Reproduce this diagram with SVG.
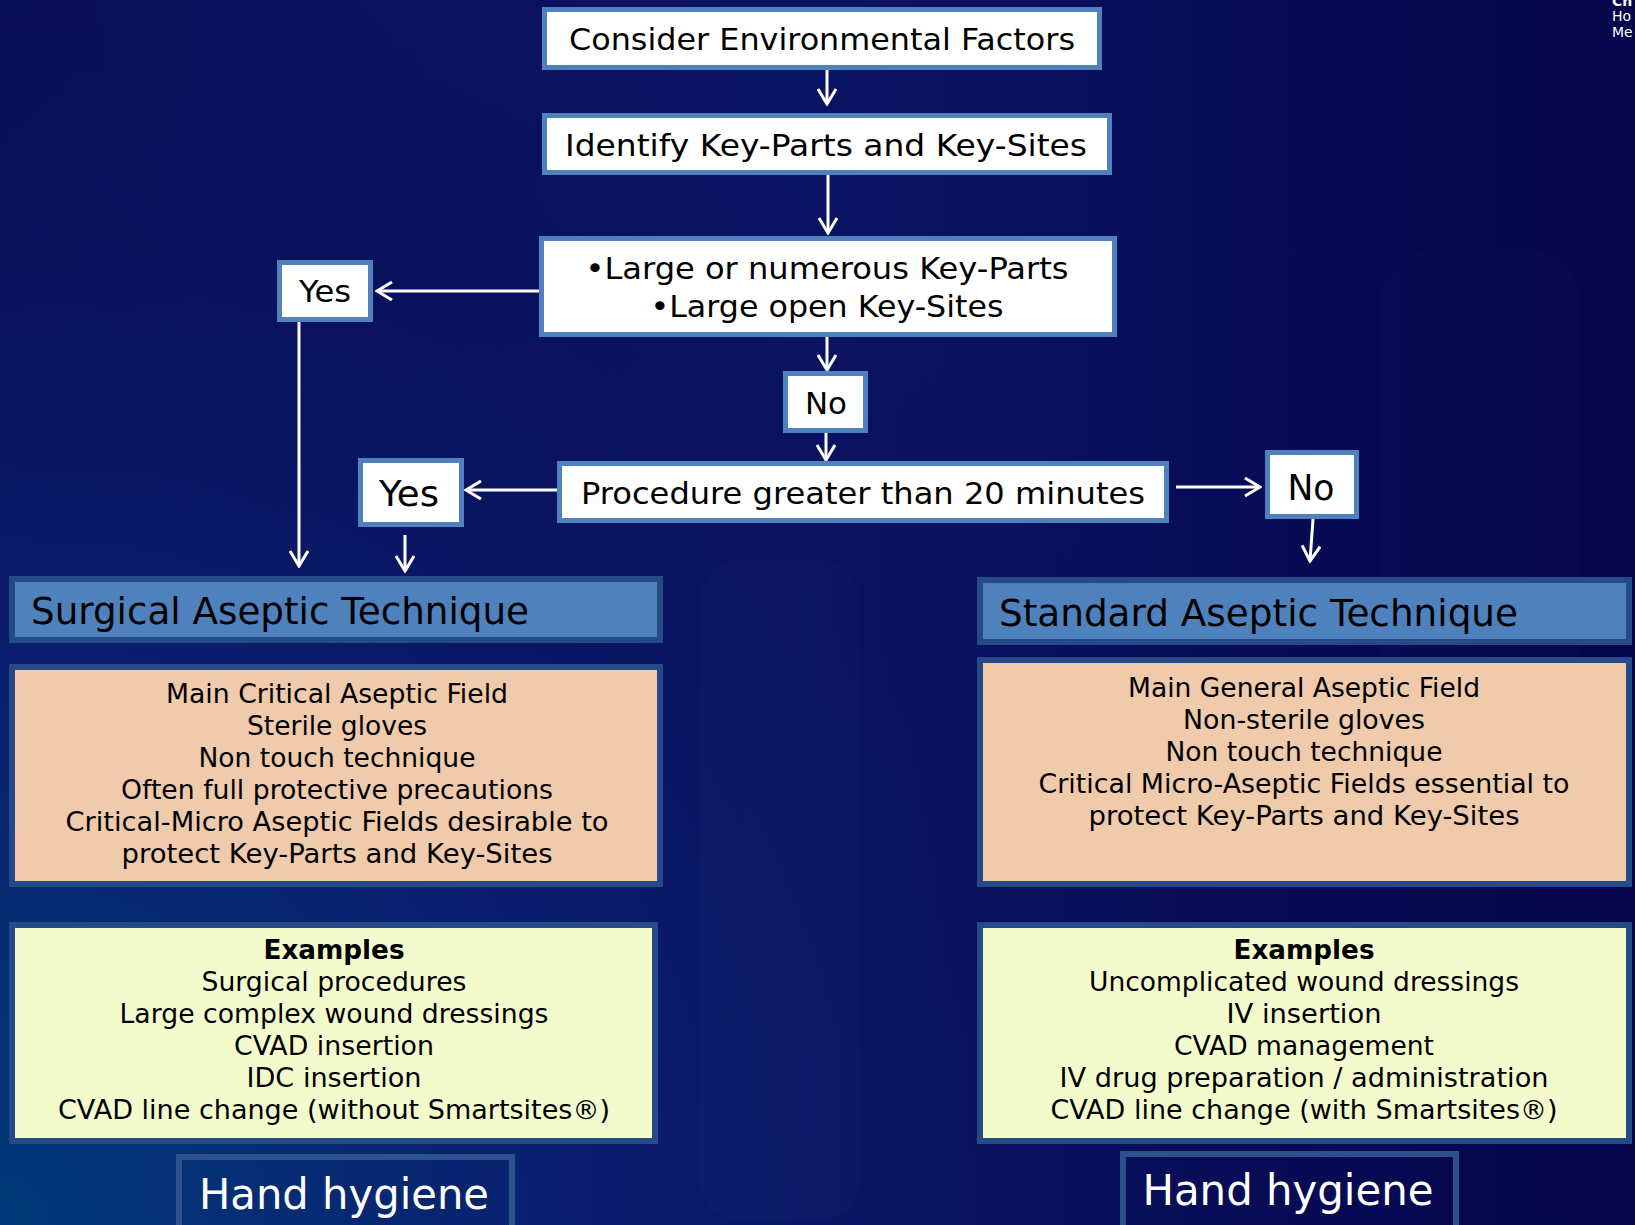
<svg xmlns="http://www.w3.org/2000/svg" width="1635" height="1225" viewBox="0 0 1635 1225">
<defs>
<radialGradient id="bgL" cx="0" cy="1225" r="1300" gradientUnits="userSpaceOnUse">
<stop offset="0" stop-color="#003a78"/>
<stop offset="0.45" stop-color="#0b2070" stop-opacity="0.9"/>
<stop offset="1" stop-color="#06084e" stop-opacity="0"/>
</radialGradient>
<linearGradient id="bgV" x1="0" y1="0" x2="1" y2="0">
<stop offset="0" stop-color="#0a0f5a"/>
<stop offset="0.5" stop-color="#0b1464"/>
<stop offset="1" stop-color="#04054a"/>
</linearGradient>
<marker id="ah" viewBox="0 0 20 20" markerWidth="20" markerHeight="20" refX="18" refY="10" orient="auto" markerUnits="userSpaceOnUse">
<path d="M3,1 L18,10 L3,19" fill="none" stroke="#ffffff" stroke-width="3"/>
</marker>
<style>
.t{font-family:"DejaVu Sans","Verdana",sans-serif;fill:#000;}
.wb{fill:#ffffff;stroke:#4f81bd;stroke-width:5;}
.hd{fill:#4f81bd;stroke:#264a88;stroke-width:6;}
.bd{fill:#efcaab;stroke:#264a88;stroke-width:6;}
.ex{fill:#f3fbcd;stroke:#264a88;stroke-width:6;}
.hh{fill:none;stroke:#2b528a;stroke-width:6;}
.c{stroke:#ffffff;stroke-width:3;fill:none;marker-end:url(#ah);}
</style>
</defs>
<rect x="0" y="0" width="1635" height="1225" fill="url(#bgV)"/>
<rect x="0" y="0" width="1635" height="1225" fill="url(#bgL)"/>
<rect x="700" y="560" width="160" height="660" rx="40" fill="#ffffff" opacity="0.015"/>
<rect x="1380" y="250" width="200" height="500" rx="50" fill="#ffffff" opacity="0.01"/>

<g id="corner" font-family="DejaVu Sans, sans-serif" fill="#ffffff" font-size="14">
<text x="1612" y="6" font-weight="bold">Ch</text>
<text x="1612" y="21">Ho</text>
<text x="1612" y="37">Me</text>
</g>

<g id="connectors">
<line class="c" x1="827" y1="70" x2="827" y2="104"/>
<line class="c" x1="828" y1="175" x2="828" y2="233"/>
<line class="c" x1="539" y1="291" x2="377" y2="291"/>
<line class="c" x1="299" y1="322" x2="299" y2="566"/>
<line class="c" x1="827" y1="337" x2="827" y2="370"/>
<line class="c" x1="826" y1="433" x2="826" y2="460"/>
<line class="c" x1="557" y1="490" x2="466" y2="490"/>
<line class="c" x1="405" y1="535" x2="405" y2="571"/>
<line class="c" x1="1176" y1="487" x2="1260" y2="487"/>
<line class="c" x1="1313" y1="519" x2="1310" y2="561"/>
</g>

<g id="n-env">
<rect class="wb" x="544.5" y="9.5" width="555" height="58"/>
<text class="t" x="822" y="50" font-size="31" text-anchor="middle" textLength="506" lengthAdjust="spacingAndGlyphs">Consider Environmental Factors</text>
</g>
<g id="n-identify">
<rect class="wb" x="544.5" y="115.5" width="565" height="57"/>
<text class="t" x="826" y="156" font-size="31" text-anchor="middle" textLength="522" lengthAdjust="spacingAndGlyphs">Identify Key-Parts and Key-Sites</text>
</g>
<g id="n-large">
<rect class="wb" x="541.5" y="238.5" width="573" height="96"/>
<text class="t" x="827" y="279" font-size="31" text-anchor="middle" textLength="483" lengthAdjust="spacingAndGlyphs">•Large or numerous Key-Parts</text>
<text class="t" x="827" y="317" font-size="31" text-anchor="middle" textLength="353" lengthAdjust="spacingAndGlyphs">•Large open Key-Sites</text>
</g>
<g id="n-yes1">
<rect class="wb" x="279.5" y="262.5" width="91" height="57"/>
<text class="t" x="325" y="302" font-size="31" text-anchor="middle" textLength="52" lengthAdjust="spacingAndGlyphs">Yes</text>
</g>
<g id="n-no1">
<rect class="wb" x="785.5" y="373.5" width="80" height="57"/>
<text class="t" x="826" y="414" font-size="31" text-anchor="middle" textLength="42" lengthAdjust="spacingAndGlyphs">No</text>
</g>
<g id="n-procedure">
<rect class="wb" x="559.5" y="463.5" width="607" height="57"/>
<text class="t" x="863" y="504" font-size="31" text-anchor="middle" textLength="564" lengthAdjust="spacingAndGlyphs">Procedure greater than 20 minutes</text>
</g>
<g id="n-yes2">
<rect class="wb" x="360.5" y="460.5" width="101" height="64"/>
<text class="t" x="409" y="506" font-size="35" text-anchor="middle" textLength="60" lengthAdjust="spacingAndGlyphs">Yes</text>
</g>
<g id="n-no2">
<rect class="wb" x="1267.5" y="452.5" width="89" height="64"/>
<text class="t" x="1311" y="500" font-size="35" text-anchor="middle" textLength="47" lengthAdjust="spacingAndGlyphs">No</text>
</g>

<g id="n-surgical">
<rect class="hd" x="12" y="579" width="648" height="61"/>
<text class="t" x="31" y="624" font-size="38" textLength="498" lengthAdjust="spacingAndGlyphs">Surgical Aseptic Technique</text>
</g>
<g id="n-standard">
<rect class="hd" x="980" y="580" width="649" height="62"/>
<text class="t" x="999" y="626" font-size="38" textLength="519" lengthAdjust="spacingAndGlyphs">Standard Aseptic Technique</text>
</g>

<g id="n-surgical-body">
<rect class="bd" x="12" y="667" width="648" height="217"/>
<g class="t" font-size="26" text-anchor="middle">
<text x="337" y="703" textLength="342" lengthAdjust="spacingAndGlyphs">Main Critical Aseptic Field</text>
<text x="337" y="735" textLength="180" lengthAdjust="spacingAndGlyphs">Sterile gloves</text>
<text x="337" y="767" textLength="277" lengthAdjust="spacingAndGlyphs">Non touch technique</text>
<text x="337" y="799" textLength="432" lengthAdjust="spacingAndGlyphs">Often full protective precautions</text>
<text x="337" y="831" textLength="543" lengthAdjust="spacingAndGlyphs">Critical-Micro Aseptic Fields desirable  to</text>
<text x="337" y="863" textLength="431" lengthAdjust="spacingAndGlyphs">protect Key-Parts and Key-Sites</text>
</g>
</g>
<g id="n-standard-body">
<rect class="bd" x="980" y="660" width="649" height="224"/>
<g class="t" font-size="26" text-anchor="middle">
<text x="1304" y="697" textLength="352" lengthAdjust="spacingAndGlyphs">Main General Aseptic Field</text>
<text x="1304" y="729" textLength="242" lengthAdjust="spacingAndGlyphs">Non-sterile gloves</text>
<text x="1304" y="761" textLength="277" lengthAdjust="spacingAndGlyphs">Non touch technique</text>
<text x="1304" y="793" textLength="531" lengthAdjust="spacingAndGlyphs">Critical Micro-Aseptic Fields essential to</text>
<text x="1304" y="825" textLength="431" lengthAdjust="spacingAndGlyphs">protect Key-Parts and Key-Sites</text>
</g>
</g>

<g id="n-surgical-examples">
<rect class="ex" x="12" y="925" width="643" height="216"/>
<g class="t" font-size="26" text-anchor="middle">
<text x="334" y="959" font-weight="bold" textLength="141" lengthAdjust="spacingAndGlyphs">Examples</text>
<text x="334" y="991" textLength="265" lengthAdjust="spacingAndGlyphs">Surgical procedures</text>
<text x="334" y="1023" textLength="429" lengthAdjust="spacingAndGlyphs">Large complex wound dressings</text>
<text x="334" y="1055" textLength="200" lengthAdjust="spacingAndGlyphs">CVAD insertion</text>
<text x="334" y="1087" textLength="175" lengthAdjust="spacingAndGlyphs">IDC insertion</text>
<text x="334" y="1119" textLength="552" lengthAdjust="spacingAndGlyphs">CVAD line change (without Smartsites®)</text>
</g>
</g>
<g id="n-standard-examples">
<rect class="ex" x="980" y="925" width="649" height="216"/>
<g class="t" font-size="26" text-anchor="middle">
<text x="1304" y="959" font-weight="bold" textLength="141" lengthAdjust="spacingAndGlyphs">Examples</text>
<text x="1304" y="991" textLength="430" lengthAdjust="spacingAndGlyphs">Uncomplicated wound dressings</text>
<text x="1304" y="1023" textLength="155" lengthAdjust="spacingAndGlyphs">IV insertion</text>
<text x="1304" y="1055" textLength="260" lengthAdjust="spacingAndGlyphs">CVAD management</text>
<text x="1304" y="1087" textLength="489" lengthAdjust="spacingAndGlyphs">IV drug preparation / administration</text>
<text x="1304" y="1119" textLength="507" lengthAdjust="spacingAndGlyphs">CVAD line change (with Smartsites®)</text>
</g>
</g>

<g id="n-hand-left">
<rect class="hh" x="179" y="1157" width="333" height="90"/>
<text x="344" y="1209" font-family="DejaVu Sans, sans-serif" font-size="43" fill="#ffffff" text-anchor="middle" textLength="290" lengthAdjust="spacingAndGlyphs">Hand hygiene</text>
</g>
<g id="n-hand-right">
<rect class="hh" x="1123" y="1154" width="333" height="90"/>
<text x="1288" y="1205" font-family="DejaVu Sans, sans-serif" font-size="43" fill="#ffffff" text-anchor="middle" textLength="291" lengthAdjust="spacingAndGlyphs">Hand hygiene</text>
</g>
</svg>
